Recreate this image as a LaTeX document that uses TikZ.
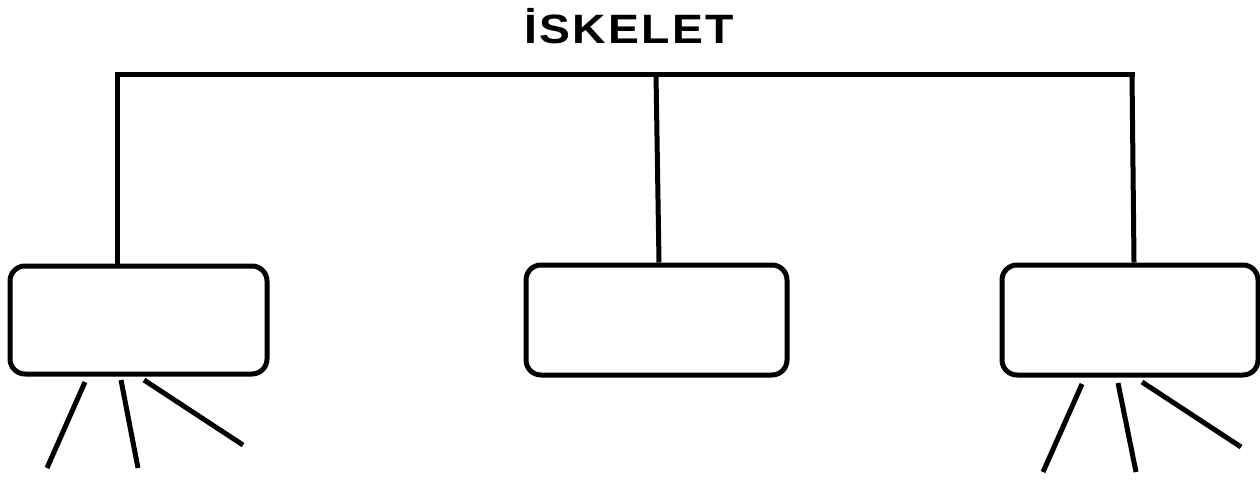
\documentclass[tikz,border=0pt]{standalone}
\usepackage{fontspec}
\newfontfamily\titlefont[LetterSpace=5]{Liberation Sans}
\begin{document}
\begin{tikzpicture}[x=1pt,y=-1pt,
  box/.style={draw=black,line width=5pt,rounded corners=15pt,fill=white,inner sep=0pt},
  wire/.style={draw=black,line width=5pt,line cap=butt},
  title/.style={font=\titlefont\bfseries\fontsize{41}{41}\selectfont,inner sep=0pt,anchor=base}]
\useasboundingbox[fill=white] (0,0) rectangle (1260,480);
\node[title] (ttl) at (629,43) {\scalebox{1.13}[1]{İSKELET}};
\node[box,minimum width=257pt,minimum height=108pt] (b1) at (138.5,320) {};
\node[box,minimum width=261pt,minimum height=110pt] (b2) at (656.5,320) {};
\node[box,minimum width=256pt,minimum height=110pt] (b3) at (1130,320) {};
\coordinate (t1) at (117,74);
\coordinate (tm) at (656,74);
\coordinate (t2) at (1132,74);
\draw[wire,line cap=rect] (t1) -- (t2);
\draw[wire] (t1) -- (t1 |- b1.north);
\draw[wire] (tm) -- ([xshift=2.5pt]b2.north);
\draw[wire] (t2) -- ([xshift=4pt]b3.north);
% legs left
\coordinate (l1a) at (85,382); \coordinate (l1b) at (47,468);
\coordinate (l2a) at (121,380); \coordinate (l2b) at (138,468);
\coordinate (l3a) at (144,380); \coordinate (l3b) at (243,445);
\draw[wire] (l1a) -- (l1b);
\draw[wire] (l2a) -- (l2b);
\draw[wire] (l3a) -- (l3b);
% legs right
\coordinate (r1a) at (1082,384); \coordinate (r1b) at (1043,472);
\coordinate (r2a) at (1118,383); \coordinate (r2b) at (1136,472);
\coordinate (r3a) at (1142,382); \coordinate (r3b) at (1241,447);
\draw[wire] (r1a) -- (r1b);
\draw[wire] (r2a) -- (r2b);
\draw[wire] (r3a) -- (r3b);
\end{tikzpicture}
\end{document}
